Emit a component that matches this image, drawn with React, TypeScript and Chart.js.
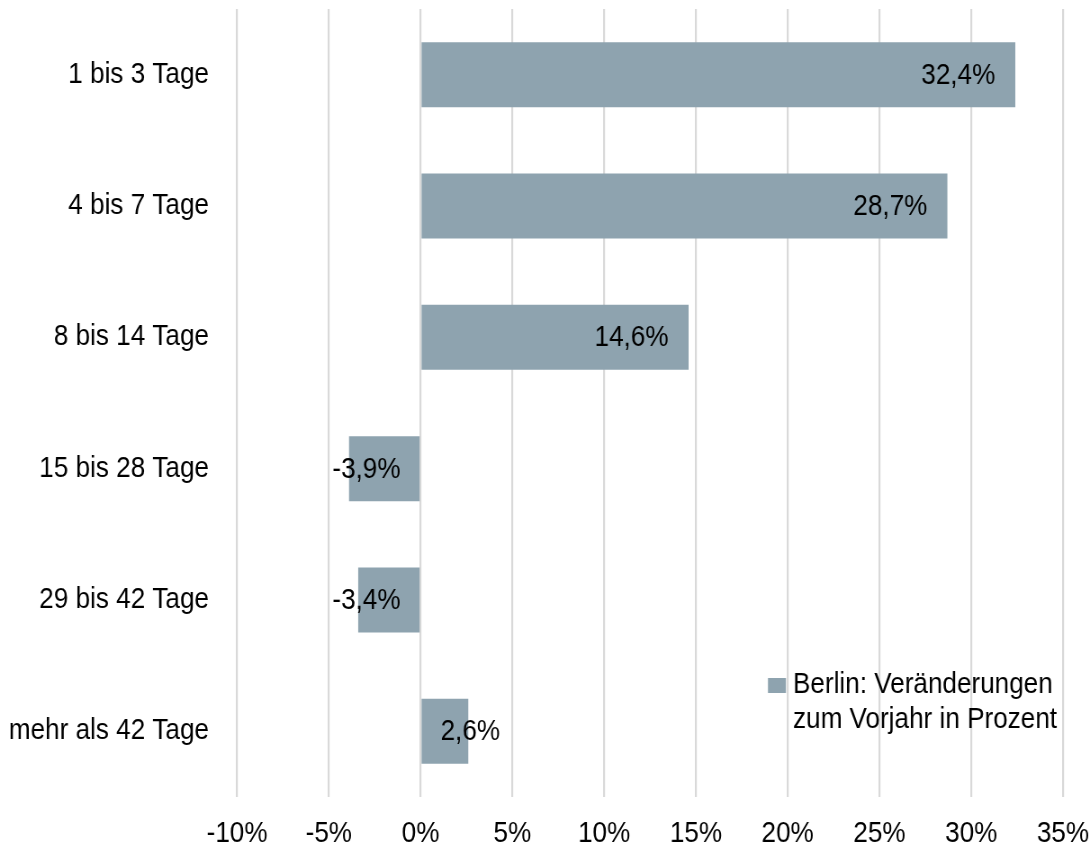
import React, { useEffect, useRef } from "react";
import { Chart, registerables } from "chart.js";

Chart.register(...registerables);

const categories = [
  "1 bis 3 Tage",
  "4 bis 7 Tage",
  "8 bis 14 Tage",
  "15 bis 28 Tage",
  "29 bis 42 Tage",
  "mehr als 42 Tage",
];
const values = [32.4, 28.7, 14.6, -3.9, -3.4, 2.6];
const seriesName = ["Berlin: Veränderungen", "zum Vorjahr in Prozent"];
const xMin = -10;
const xMax = 35;
const xStep = 5;

// The canvas is drawn wider and squeezed horizontally by CSS to mimic a condensed font.
const SX = 0.9;
const W = 1090;
const H = 849;
const IW = Math.round(W / SX);

const FONT = "'Liberation Sans', Arial, sans-serif";
const FSIZE = 29;
const BAR_COLOR = "#8EA3AF";

const fmt = (v: number) => v.toFixed(1).replace(".", ",") + "%";

const labelPlugin = {
  id: "barLabels",
  afterDatasetsDraw(chart: any) {
    const ctx = chart.ctx;
    const meta = chart.getDatasetMeta(0);
    const xs = chart.scales.x;
    const base = xs.getPixelForValue(0);
    const pad = 20 / SX;
    ctx.save();
    ctx.font = `${FSIZE}px ${FONT}`;
    ctx.fillStyle = "#000";
    ctx.textBaseline = "middle";
    ctx.textAlign = "left";
    meta.data.forEach((bar: any, i: number) => {
      const v = values[i];
      const text = fmt(v);
      const w = ctx.measureText(text).width;
      let left: number;
      if (v >= 0) {
        left = bar.x - pad - w;
        if (left < base + pad) left = base + pad;
      } else {
        left = bar.x + pad;
        if (left + w > base - pad) left = base - pad - w;
      }
      ctx.fillText(text, left, bar.y + 1);
    });
    ctx.restore();
  },
};

const legendPlugin = {
  id: "customLegend",
  afterDraw(chart: any) {
    const ctx = chart.ctx;
    const area = chart.chartArea;
    const boxX = area.right - 295 / SX;
    const boxY = area.top + 669;
    ctx.save();
    ctx.fillStyle = BAR_COLOR;
    ctx.fillRect(boxX, boxY, 18 / SX, 15);
    ctx.font = `${FSIZE}px ${FONT}`;
    ctx.fillStyle = "#000";
    ctx.textBaseline = "middle";
    ctx.textAlign = "left";
    seriesName.forEach((line, i) => {
      ctx.fillText(line, boxX + 25 / SX, boxY + 7 + i * 35);
    });
    ctx.restore();
  },
};

export default function App() {
  const ref = useRef<HTMLCanvasElement | null>(null);
  useEffect(() => {
    if (!ref.current) return;
    const chart = new Chart(ref.current, {
      type: "bar",
      data: {
        labels: categories,
        datasets: [
          {
            label: seriesName.join(" "),
            data: values,
            backgroundColor: BAR_COLOR,
            barPercentage: 0.495,
            categoryPercentage: 1,
          },
        ],
      },
      options: {
        indexAxis: "y",
        animation: false,
        responsive: false,
        maintainAspectRatio: false,
        devicePixelRatio: 1,
        layout: { padding: { top: 9, right: 27 / SX, bottom: 0, left: 0 } },
        plugins: { legend: { display: false }, tooltip: { enabled: false } },
        scales: {
          x: {
            min: xMin,
            max: xMax,
            ticks: {
              stepSize: xStep,
              padding: 20,
              maxRotation: 0,
              color: "#000",
              font: { family: FONT, size: FSIZE },
              callback: (v: any) => `${v}%`,
            },
            grid: { color: "#D9D9D9", lineWidth: 2.2, drawTicks: false },
            border: { display: false },
            afterFit: (s: any) => {
              s.height = 52;
              s.paddingLeft = 0;
              s.paddingRight = 0;
            },
          },
          y: {
            ticks: {
              padding: 28 / SX,
              color: "#000",
              font: { family: FONT, size: FSIZE },
            },
            grid: { display: false, drawTicks: false },
            border: { display: false },
            afterFit: (s: any) => {
              s.width = 237 / SX;
              s.paddingTop = 0;
              s.paddingBottom = 0;
            },
          },
        },
      },
      plugins: [labelPlugin, legendPlugin],
    });
    return () => chart.destroy();
  }, []);
  return (
    <canvas
      ref={ref}
      width={IW}
      height={H}
      style={{ position: "fixed", left: 0, top: 0, width: W, height: H }}
    />
  );
}
